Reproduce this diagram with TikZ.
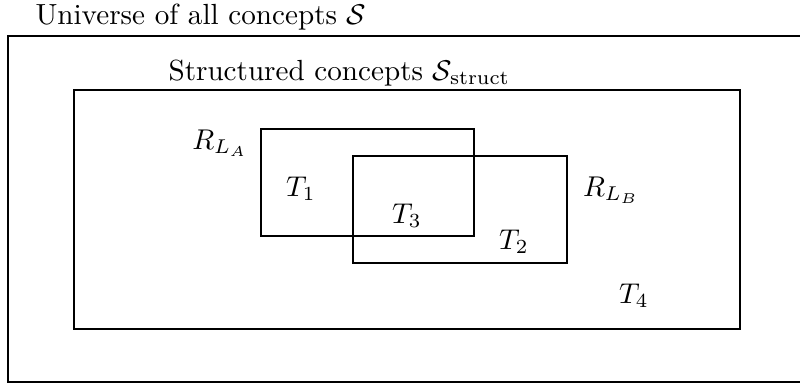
\documentclass[tikz,border=0pt]{standalone}
\begin{document}
\begin{tikzpicture}[x=0.35pt,y=-0.35pt,
  frame/.style={draw=black,line width=0.6pt},
  lbl/.style={inner sep=0pt,font=\fontsize{10.2}{12.2}\selectfont}]
\useasboundingbox (0,0) rectangle (800,385);
% outer universe frame (right side lies beyond the picture)
\coordinate (otr) at (800,36);
\coordinate (otl) at (8,36);
\coordinate (obl) at (8,382);
\coordinate (obr) at (800,382);
\draw[frame] (otr) -- (otl) -- (obl) -- (obr);
\node[lbl,anchor=base west] (univ) at (35,24.5) {Universe of all concepts $\mathcal{S}$};
% structured concepts
\coordinate (s1) at (74,90);
\coordinate (s2) at (740,329);
\draw[frame] (s1) rectangle (s2);
\node[lbl,anchor=base west] (struct) at (168,80) {Structured concepts $\mathcal{S}_{\mathrm{struct}}$};
% R_LA and R_LB
\coordinate (a1) at (261,129);
\coordinate (a2) at (474,236);
\draw[frame] (a1) rectangle (a2);
\coordinate (b1) at (353,156);
\coordinate (b2) at (567,263);
\draw[frame] (b1) rectangle (b2);
\node[lbl] (rla) at (220,143) {$R_{L_A}$};
\node[lbl] (rlb) at (611,190) {$R_{L_B}$};
\node[lbl] (t1) at (301,189) {$T_1$};
\node[lbl] (t3) at (407,216) {$T_3$};
\node[lbl] (t2) at (514,242) {$T_2$};
\node[lbl] (t4) at (634,296) {$T_4$};
\end{tikzpicture}
\end{document}
